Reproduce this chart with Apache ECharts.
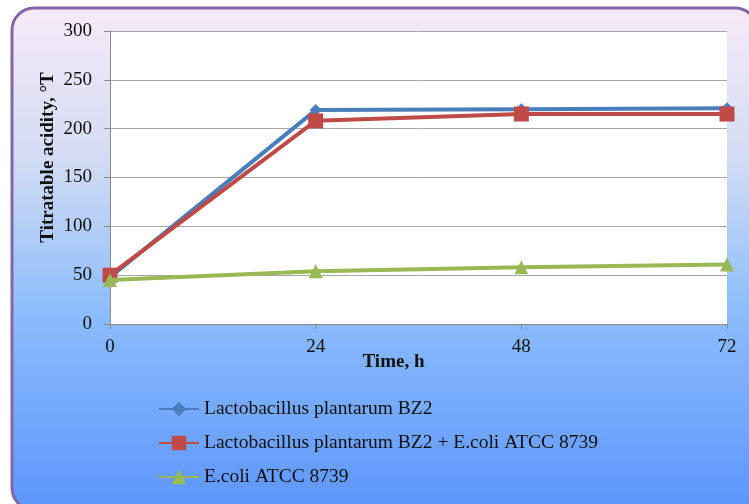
<!DOCTYPE html>
<html>
<head>
<meta charset="utf-8">
<script src="https://cdn.jsdelivr.net/npm/echarts@6/dist/echarts.min.js"></script>
<style>
  html, body { margin: 0; padding: 0; background: #ffffff; }
  #chart { width: 749px; height: 504px; }
</style>
</head>
<body>
<div id="chart"></div>
<script>
// Sampling times (hours)
const hours = [0, 24, 48, 72];
// Titratable acidity, °T
const plantarum = [48, 219, 220, 221];
const plantarumEcoli = [50, 208, 215, 215];
const ecoli = [45, 54, 58, 61];
const seriesNames = [
  'Lactobacillus plantarum BZ2',
  'Lactobacillus plantarum BZ2 + E.coli ATCC 8739',
  'E.coli ATCC 8739'
];

const pairs = arr => hours.map((h, i) => [h, arr[i]]);
const serif = '"Liberation Serif", "Times New Roman", serif';

const chart = echarts.init(document.getElementById('chart'), null, { renderer: 'canvas' });
chart.setOption({
  animation: false,
  graphic: [{
    type: 'rect',
    z: -10,
    silent: true,
    shape: { x: 12, y: 8, width: 745, height: 502, r: 22 },
    style: {
      fill: new echarts.graphic.LinearGradient(0, 0, 0, 1, [
        { offset: 0, color: '#f6eaf8' },
        { offset: 0.3, color: '#d3dcf3' },
        { offset: 0.6, color: '#8dbdfb' },
        { offset: 1, color: '#5c95fd' }
      ]),
      stroke: '#8268a8',
      lineWidth: 3
    }
  }],
  grid: {
    left: 110, right: 22, top: 31, bottom: 180,
    show: true, backgroundColor: '#ffffff', borderWidth: 0
  },
  xAxis: {
    type: 'value',
    min: 0, max: 72, interval: 24,
    name: 'Time, h',
    nameLocation: 'middle',
    nameGap: 29,
    nameMoveOverlap: false,
    nameTextStyle: {
      fontFamily: serif, fontSize: 19, fontWeight: 'bold', color: '#111',
      padding: [0, 50, 0, 0]
    },
    axisLine: { show: true, lineStyle: { color: '#8c8c8c', width: 1 } },
    axisTick: { show: true, length: 5, lineStyle: { color: '#8c8c8c' } },
    axisLabel: { fontFamily: serif, fontSize: 19, color: '#111', margin: 14 },
    splitLine: { show: false }
  },
  yAxis: {
    type: 'value',
    min: 0, max: 300, interval: 50,
    name: 'Titratable acidity, °T',
    nameLocation: 'middle',
    nameGap: 52,
    nameMoveOverlap: false,
    nameTextStyle: {
      fontFamily: serif, fontSize: 19, fontWeight: 'bold', color: '#111',
      padding: [0, 0, 0, 40]
    },
    axisLine: { show: true, lineStyle: { color: '#8c8c8c', width: 1 } },
    axisTick: { show: true, length: 6, lineStyle: { color: '#8c8c8c' } },
    axisLabel: { fontFamily: serif, fontSize: 19, color: '#111', margin: 18 },
    splitLine: { show: true, lineStyle: { color: '#a6a6a6', width: 1 } }
  },
  legend: {
    orient: 'vertical',
    left: 153, top: 394,
    itemGap: 14,
    itemWidth: 40, itemHeight: 18,
    textStyle: { fontFamily: serif, fontSize: 19.5, color: '#111' },
    data: seriesNames
  },
  series: [
    {
      name: seriesNames[0], type: 'line', data: pairs(plantarum),
      symbol: 'diamond', symbolSize: 12,
      lineStyle: { color: '#4a7ebb', width: 4 },
      itemStyle: { color: '#4a7ebb' },
      z: 3
    },
    {
      name: seriesNames[1], type: 'line', data: pairs(plantarumEcoli),
      symbol: 'rect', symbolSize: 15,
      lineStyle: { color: '#be4b48', width: 4 },
      itemStyle: { color: '#be4b48' },
      z: 4
    },
    {
      name: seriesNames[2], type: 'line', data: pairs(ecoli),
      symbol: 'triangle', symbolSize: 14,
      lineStyle: { color: '#98b954', width: 4 },
      itemStyle: { color: '#98b954' },
      z: 5
    }
  ]
});
</script>
</body>
</html>
